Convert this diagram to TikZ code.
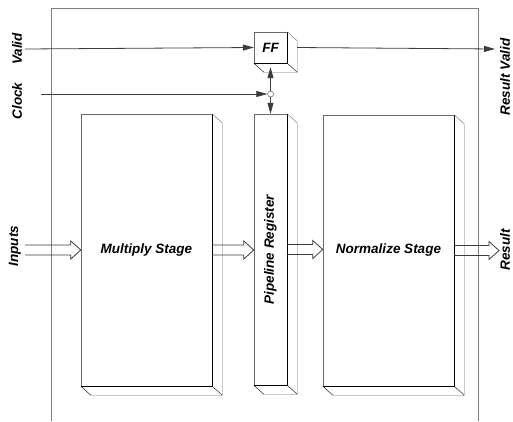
\documentclass[tikz,border=0pt]{standalone}
\usepackage{fontspec}
\setmainfont{Liberation Sans}
\usetikzlibrary{arrows.meta,calc,positioning}
\definecolor{framegray}{RGB}{125,125,125}
\definecolor{edgegray}{RGB}{105,105,105}
\definecolor{wiregray}{RGB}{60,60,60}

% front face: light top/left, dark bottom/right, then the extruded side
\newcommand\slabdepth[1]{%
  \draw[edgegray] (#1.south west) -- (#1.north west) -- (#1.north east);
  \draw[black, line width=1.1pt] (#1.north east) -- (#1.south east) -- (#1.south west);
  \draw[edgegray] (#1.north east) -- ++(10,9) -- ($(#1.south east)+(10,9)$) -- ($(#1.south west)+(10,9)$);
  \draw[black] (#1.south west) -- ++(10,9) (#1.south east) -- ++(10,9);
}
% hollow bus arrow, open at its tail
\newcommand\busarrow[2]{%
  \draw[bus] let \p1=(#1), \p2=(#2) in
    (\x1,\y1+5) -- (\x2-10,\y1+5) -- (\x2-10,\y1+9) -- (\x2,\y1)
    -- (\x2-10,\y1-9) -- (\x2-10,\y1-5) -- (\x1,\y1-5);
}

\begin{document}
\begin{tikzpicture}[x=1pt, y=-1pt,
  font=\fontsize{13.5}{16}\selectfont\bfseries\itshape,
  slab/.style={inner sep=0pt, draw=none},
  wire/.style={wiregray, line width=0.8pt},
  tip/.style={-{Triangle[length=11pt,width=6pt]}},
  bus/.style={wiregray, line width=0.8pt, line join=miter},
  sidelabel/.style={rotate=90, inner sep=0pt}]
\useasboundingbox (0,0) rectangle (513,421);

% frame
\draw[framegray, line width=0.8pt] (51,421) -- (51,8) -- (478,8) -- (478,421);

% stages
\node[slab, minimum width=131pt, minimum height=272pt] (mult) at (146.5,250) {Multiply Stage};
\node[slab, minimum width=33pt, minimum height=271pt] (preg) at (270.5,249.5) {};
\node[sidelabel] (lpreg) at (preg.center) {Pipeline Register};
\node[slab, minimum width=131pt, minimum height=271pt] (norm) at (388.5,250.5) {Normalize Stage};
\node[slab, minimum width=33pt, minimum height=31pt] (ff) at (270.5,47.5) {FF};
\slabdepth{mult}
\slabdepth{preg}
\slabdepth{norm}
\slabdepth{ff}

% side labels
\node[sidelabel] (lvalid) at (17,49) {Valid};
\node[sidelabel] (lclock) at (17,101) {Clock};
\node[sidelabel] (linputs) at (15,246) {Inputs};
\node[sidelabel] (lresvalid) at (505,77) {Result Valid};
\node[sidelabel] (lresult) at (505,250) {Result};

% control wires
\coordinate (vin) at (25,49);
\coordinate (vout) at (495,49);
\coordinate (clk) at (41,94);
\node[draw=wiregray, circle, minimum size=6pt, inner sep=0pt] (ck) at (270.5,94) {};
\draw[wire, tip] (vin) -- (ff.west);
\draw[wire, tip] ([xshift=10pt]ff.east) -- (vout);
\draw[wire, tip] (clk) -- (ck.west);
\draw[wire, tip] (ck.north) -- ([yshift=-4pt]ff.south);
\draw[wire, tip] (ck.south) -- (preg.north);

% data buses
\coordinate (inp) at (25,250);
\coordinate (res) at (499,250);
\busarrow{inp}{mult.west}
\busarrow{mult.east}{preg.west}
\busarrow{preg.east}{norm.west}
\busarrow{norm.east}{res}
\end{tikzpicture}
\end{document}
